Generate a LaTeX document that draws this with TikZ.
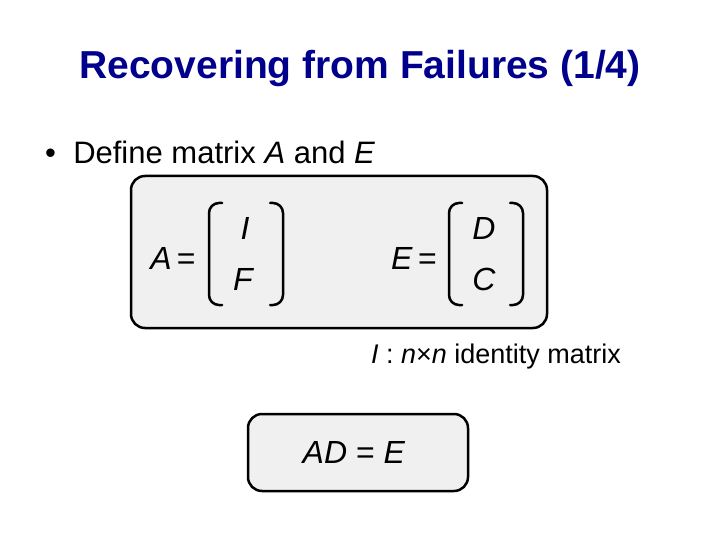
\documentclass[tikz,border=0pt]{standalone}
\usepackage{fontspec}
\setmainfont{Liberation Sans}
\begin{document}
\begin{tikzpicture}[x=1pt,y=-1pt,
  txt/.style={inner sep=0pt,anchor=center},
  big/.style={font=\fontsize{32}{38}\selectfont},
  bigi/.style={font=\itshape\fontsize{32}{38}\selectfont},
  box/.style={draw=black,line width=2.5pt,rounded corners=14pt,fill=black!6},
  brk/.style={line width=2.5pt,rounded corners=10pt,line cap=round}]
\useasboundingbox (0,0) rectangle (720,540);
\node[txt,text=blue!55!black,font=\bfseries\fontsize{39}{46}\selectfont] (title) at (360,69) {Recovering from Failures (1/4)};
\node[txt,anchor=west,font=\fontsize{31}{36}\selectfont] (bullet) at (45,152) {\textbullet\ \ Define matrix \textit{A} and \textit{E}};
\draw[box] (131,176) rectangle (547,328);
\node[txt,big] (aeq) at (173,258) {\textit{A}\,=};
\draw[brk] (222,203) -- (209,203) -- (209,305) -- (222,305);
\draw[brk] (270,203) -- (283,203) -- (283,305) -- (270,305);
\node[txt,bigi] (i) at (245,228) {I};
\node[txt,bigi] (f) at (243,279) {F};
\node[txt,big] (eeq) at (414,258) {\textit{E}\,=};
\draw[brk] (462,203) -- (449,203) -- (449,305) -- (462,305);
\draw[brk] (510,203) -- (523,203) -- (523,305) -- (510,305);
\node[txt,bigi] (d) at (484,228) {D};
\node[txt,bigi] (c) at (484,279) {C};
\node[txt,font=\fontsize{27}{32}\selectfont] (note) at (496,357) {\textit{I} : \textit{n}×\textit{n} identity matrix};
\draw[box] (248,414) rectangle (468,491);
\node[txt,font=\fontsize{32}{38}\selectfont] (ad) at (354,452) {\textit{AD} = \textit{E}};
\end{tikzpicture}
\end{document}
